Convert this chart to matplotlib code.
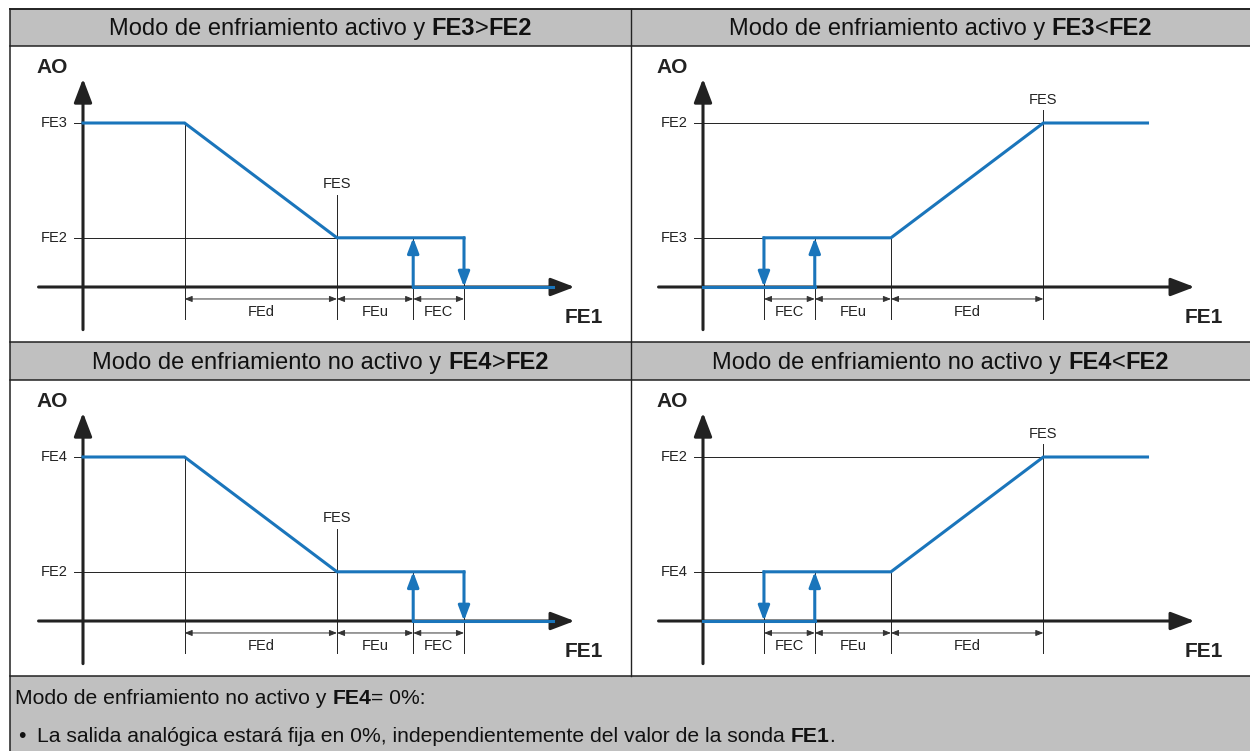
import numpy as np
import matplotlib
matplotlib.use("Agg")
import matplotlib.pyplot as plt
from matplotlib.patches import Rectangle

W, H = 1250, 751
BLUE = "#1a75bb"
GRAY = "#c0c0c0"
INK = "#222222"

plt.rcParams["font.family"] = ["Liberation Sans", "DejaVu Sans"]

# ---- chart content ----
headers = [
    [("Modo de enfriamiento activo y ", False), ("FE3", True), (">", False), ("FE2", True)],
    [("Modo de enfriamiento activo y ", False), ("FE3", True), ("<", False), ("FE2", True)],
    [("Modo de enfriamiento no activo y ", False), ("FE4", True), (">", False), ("FE2", True)],
    [("Modo de enfriamiento no activo y ", False), ("FE4", True), ("<", False), ("FE2", True)],
]
footer_title = [("Modo de enfriamiento no activo y ", False), ("FE4", True), ("= 0%:", False)]
footer_bullet = [("La salida analógica estará fija en 0%, independientemente del valor de la sonda ", False),
                 ("FE1", True), (".", False)]

# level names (upper level at 100 %, lower level at 30 %)
upper_names = ["FE3", "FE2", "FE4", "FE2"]
lower_names = ["FE2", "FE3", "FE2", "FE4"]
level_hi, level_lo = 100, 30

# falling characteristic (left column): output drops from the upper level to FE2
fall_x = [0, 4, 10, 15]
fall_y = [100, 100, 30, 30]
fall_off = [13, 18.5]
fall_up, fall_down = 13, 15
fall_marks = [4, 10, 13, 15]
fall_spans = ["FEd", "FEu", "FEC"]
fall_fes = 10

# rising characteristic (right column): output climbs from the lower level to FE2
rise_x = [2.4, 7.4, 13.4, 17.5]
rise_y = [30, 30, 100, 100]
rise_off = [0, 4.4]
rise_up, rise_down = 4.4, 2.4
rise_marks = [2.4, 4.4, 7.4, 13.4]
rise_spans = ["FEC", "FEu", "FEd"]
rise_fes = 13.4

# ---- layout (pixels) ----
SX, SY = 25.4, 1.64
cells = [(10, 46, 631, 342), (631, 46, 1250, 342), (10, 380, 631, 676), (631, 380, 1250, 676)]
origins = [(83, 287), (703, 287), (83, 621), (703, 621)]

fig = plt.figure(figsize=(12.5, 7.51), dpi=100)
bg = fig.add_axes([0, 0, 1, 1])
bg.set_xlim(0, W)
bg.set_ylim(H, 0)
bg.axis("off")

for y0, h in [(9, 37), (342, 38), (676, 75)]:
    bg.add_patch(Rectangle((10, y0), W - 10, h, facecolor=GRAY, edgecolor="none"))
for y in [9, 46, 342, 380, 676]:
    bg.plot([10, W], [y, y], color=INK, lw=1.4 if y == 9 else 1.1)
bg.plot([10, 10], [9, H], color=INK, lw=1.1)
bg.plot([631, 631], [9, 676], color=INK, lw=1.0)

renderer = fig.canvas.get_renderer()


def rich_text(x, y, parts, size, center=False):
    probe = bg.text(0, 0, "x x", fontsize=size)
    probe2 = bg.text(0, 0, "xx", fontsize=size)
    space = probe.get_window_extent(renderer).width - probe2.get_window_extent(renderer).width
    probe.remove()
    probe2.remove()
    items = []
    for s, bold in parts:
        t = bg.text(0, y, s.strip(), fontsize=size, fontweight="bold" if bold else "normal",
                    va="baseline", ha="left", color="#111111")
        w = t.get_window_extent(renderer).width if s.strip() else 0
        lead = (len(s) - len(s.lstrip())) * space
        trail = (len(s) - len(s.rstrip())) * space
        items.append((t, lead, w, trail))
    total = sum(l + w + tr for _, l, w, tr in items)
    cx = x - total / 2 if center else x
    for t, lead, w, trail in items:
        t.set_x(cx + lead)
        cx += lead + w + trail


for (x0, y0, x1, y1), parts in zip(cells, headers):
    rich_text((x0 + x1) / 2, y0 - 11, parts, 17, center=True)

rich_text(15, 704, footer_title, 15.2)
bg.text(22, 742, "•", fontsize=15.2, va="baseline", ha="center", color="#111111")
rich_text(37, 742, footer_bullet, 15.2)


def arrow(ax, a, b, color, lw, scale, style="-|>", z=3):
    ax.annotate("", xy=b, xytext=a,
                arrowprops=dict(arrowstyle=style, color=color, lw=lw, mutation_scale=scale,
                                shrinkA=0, shrinkB=0), zorder=z, annotation_clip=False)


AXIS_HEAD = "-|>,head_length=0.5,head_width=0.19"
SWITCH_HEAD = "-|>,head_length=0.45,head_width=0.17"
DIM_HEAD = "<|-|>,head_length=0.5,head_width=0.2"
LBL = 10.5

for i, ((x0, y0, x1, y1), (ox, oy)) in enumerate(zip(cells, origins)):
    ax = fig.add_axes([x0 / W, 1 - y1 / H, (x1 - x0) / W, (y1 - y0) / H])
    ax.set_xlim((x0 - ox) / SX, (x1 - ox) / SX)
    ax.set_ylim((oy - y1) / SY, (oy - y0) / SY)
    ax.axis("off")
    ax.set_facecolor("none")

    falling = i % 2 == 0
    cx, cy = (fall_x, fall_y) if falling else (rise_x, rise_y)
    off = fall_off if falling else rise_off
    up_x, down_x = (fall_up, fall_down) if falling else (rise_up, rise_down)
    marks = fall_marks if falling else rise_marks
    spans = fall_spans if falling else rise_spans
    fes = fall_fes if falling else rise_fes
    fes_label_y, fes_top = (63, 56) if falling else (114, 108)

    # thin reference lines
    ax.plot([-0.35, cx[1]], [cy[1], cy[1]], color=INK, lw=0.7, zorder=1)
    ax.plot([-0.35, cx[2]], [cy[2], cy[2]], color=INK, lw=0.7, zorder=1)
    for m in marks:
        top = fes_top if m == fes else np.interp(m, cx, cy)
        ax.plot([m, m], [-19.5, top], color=INK, lw=0.7, zorder=1)
    for a, b, name in zip(marks[:-1], marks[1:], spans):
        arrow(ax, (a, -7.3), (b, -7.3), "#333333", 0.7, 9, style=DIM_HEAD, z=2)
        ax.text((a + b) / 2, -15.2, name, fontsize=LBL, ha="center", va="center", color=INK)
    ax.text(fes, fes_label_y, "FES", fontsize=LBL, ha="center", va="center", color=INK)

    # axes
    arrow(ax, (-1.75, 0), (19.35, 0), INK, 2.2, 29, style=AXIS_HEAD, z=2)
    arrow(ax, (0, -26), (0, 127), INK, 2.2, 29, style=AXIS_HEAD, z=2)
    ax.text(-1.2, 134, "AO", fontsize=15, fontweight="bold", ha="center", va="center", color=INK)
    ax.text(19.7, -18.3, "FE1", fontsize=15, fontweight="bold", ha="center", va="center", color=INK)
    ax.text(-0.6, level_hi, upper_names[i], fontsize=LBL, ha="right", va="center", color=INK)
    ax.text(-0.6, level_lo, lower_names[i], fontsize=LBL, ha="right", va="center", color=INK)

    # output characteristic
    ax.plot(cx, cy, color=BLUE, lw=2.2, zorder=4, solid_joinstyle="miter")
    ax.plot(off, [0, 0], color=BLUE, lw=2.2, zorder=4)
    arrow(ax, (up_x, 0), (up_x, level_lo), BLUE, 2.2, 20, style=SWITCH_HEAD, z=5)
    arrow(ax, (down_x, level_lo), (down_x, 0), BLUE, 2.2, 20, style=SWITCH_HEAD, z=5)

fig.savefig("out.png", dpi=100)
